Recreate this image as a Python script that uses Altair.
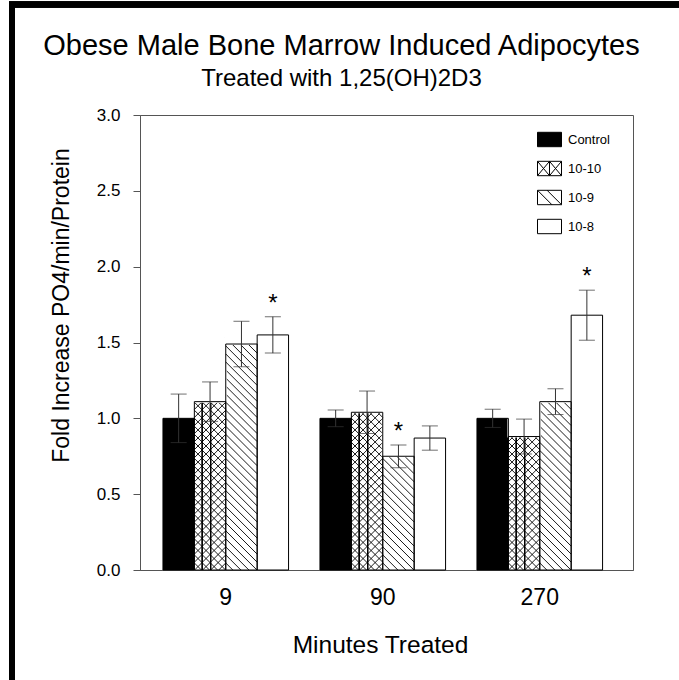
import altair as alt
import pandas as pd

groups = ["9", "90", "270"]
series = ["Control", "10-10", "10-9", "10-8"]

values_9 = [1.00, 1.11, 1.49, 1.55]
values_90 = [1.00, 1.04, 0.75, 0.87]
values_270 = [1.00, 0.88, 1.11, 1.68]

errors_9 = [0.16, 0.13, 0.15, 0.12]
errors_90 = [0.055, 0.14, 0.075, 0.08]
errors_270 = [0.06, 0.115, 0.085, 0.165]

significant = [("9", "10-8"), ("90", "10-9"), ("270", "10-8")]

rows = []
for g, vals, errs in zip(groups, [values_9, values_90, values_270],
                         [errors_9, errors_90, errors_270]):
    for s, v, e in zip(series, vals, errs):
        rows.append(dict(group=g, series=s, value=v, err=e,
                         lo=v - e, hi=v + e,
                         sig="*" if (g, s) in significant else ""))
df = pd.DataFrame(rows)

FONT = "Liberation Sans"
FRAME = "#555555"
W, H = 493, 455

x_enc = alt.X("group:N", sort=groups,
              scale=alt.Scale(paddingInner=0.2, paddingOuter=0.17, align=0.43),
              axis=alt.Axis(title="Minutes Treated", labelAngle=0, ticks=False,
                            labelFontSize=23, labelPadding=16, labelFont=FONT,
                            labelColor="black", titleFont=FONT, titleFontSize=24.5,
                            titleFontWeight="normal", titleColor="black",
                            titlePadding=24, titleX=240, domainColor=FRAME))
xo_enc = alt.XOffset("series:N", sort=series,
                     scale=alt.Scale(paddingInner=0, paddingOuter=0))
y_axis = alt.Axis(title="Fold Increase PO4/min/Protein",
                  values=[0, 0.5, 1.0, 1.5, 2.0, 2.5, 3.0], format=".1f",
                  grid=False, tickSize=7, tickColor=FRAME, domainColor=FRAME,
                  labelFontSize=17, labelFont=FONT, labelColor="black",
                  labelPadding=13, titleFont=FONT, titleFontSize=23,
                  titleFontWeight="normal", titleColor="black",
                  titleX=-67, titleY=190, titleAlign="center",
                  titleBaseline="bottom", titleAngle=270)
y_scale = alt.Scale(domain=[0, 3], nice=False, zero=True)


def Y(field):
    return alt.Y(field, type="quantitative", scale=y_scale, axis=y_axis)


base = alt.Chart(df)

HATCH_BACK = "M-1,-1L1,1"
HATCH_FWD = "M-1,1L1,-1"
HATCH_VERT = "M-0.5,-1L-0.5,1M0.04,-1L0.04,1"
BAR_PX = (W / 3.14) * 0.8 / 4
HSIZE = BAR_PX ** 2

bars = base.mark_bar(strokeWidth=0).encode(
    x=x_enc, xOffset=xo_enc, y=Y("value"),
    fill=alt.condition(alt.datum.series == "Control", alt.value("black"), alt.value("white")))


def hatch(filter_series, shape):
    return base.transform_filter(
        alt.FieldOneOfPredicate(field="series", oneOf=filter_series)
    ).transform_calculate(
        hy="sequence(-0.11, datum.value + 0.105, 0.053)"
    ).transform_flatten(["hy"]).mark_point(
        shape=shape, size=HSIZE, filled=False, stroke="black",
        strokeWidth=0.9, opacity=1, clip=True
    ).encode(x=x_enc, xOffset=xo_enc, y=Y("hy"))


h_back = hatch(["10-10", "10-9"], HATCH_BACK)
h_fwd = hatch(["10-10"], HATCH_FWD)
h_vert = hatch(["10-10"], HATCH_VERT)

cover = base.transform_filter(
    alt.FieldOneOfPredicate(field="series", oneOf=["10-10", "10-9"])
).transform_calculate(top="datum.value + 0.24").mark_bar(
    fill="white", stroke="white", strokeWidth=2
).encode(x=x_enc, xOffset=xo_enc, y=Y("value"), y2="top:Q")

outline = base.mark_bar(fillOpacity=0, stroke="black", strokeWidth=1).encode(
    x=x_enc, xOffset=xo_enc, y=Y("value"))

err_line = base.mark_rule(color="#333333", strokeWidth=1).encode(
    x=x_enc, xOffset=xo_enc, y=Y("lo"), y2="hi:Q")
cap_hi = base.mark_tick(color="#333333", size=16, thickness=1).encode(
    x=x_enc, xOffset=xo_enc, y=Y("hi"))
cap_lo = base.mark_tick(color="#333333", size=16, thickness=1).encode(
    x=x_enc, xOffset=xo_enc, y=Y("lo"))

stars = base.transform_filter(alt.datum.sig != "").mark_text(
    fontSize=24, font=FONT, baseline="alphabetic", dy=-6, color="black"
).encode(x=x_enc, xOffset=xo_enc, y=Y("hi"), text="sig:N")

LEG_RECT = "M-1,-0.6L1,-0.6L1,0.6L-1,0.6Z"
LEG_CROSS = (LEG_RECT + "M-1,-0.6L0,0.6M0,-0.6L-1,0.6M0,-0.6L1,0.6M1,-0.6L0,0.6"
             "M0,-0.6L0,0.6")
LEG_DIAG = LEG_RECT + "M-1,-0.6L0.2,0.6M-0.2,-0.6L1,0.6"

legend = alt.Legend(
    title=None, orient="none", legendX=397, legendY=12,
    symbolSize=576, symbolStrokeColor="black",
    symbolStrokeWidth=1, symbolOpacity=1, labelFont=FONT,
    labelFontSize=13, labelColor="black", labelOffset=6,
    rowPadding=7, padding=0)

legend_layer = base.mark_point(filled=True, opacity=0, size=576,
                               strokeWidth=1).encode(
    x=x_enc, xOffset=xo_enc, y=Y("value"),
    shape=alt.Shape("series:N", sort=series,
                    scale=alt.Scale(domain=series,
                                    range=[LEG_RECT, LEG_CROSS, LEG_DIAG, LEG_RECT]),
                    legend=legend),
    fill=alt.Fill("series:N", sort=series,
                  scale=alt.Scale(domain=series,
                                  range=["black", "white", "white", "white"]),
                  legend=legend),
    stroke=alt.Stroke("series:N", sort=series,
                      scale=alt.Scale(domain=series,
                                      range=["black", "black", "black", "black"]),
                      legend=legend))

left_bar = base.mark_rule(color="black", strokeWidth=6).encode(
    x=alt.value(-128), y=alt.value(-113), y2=alt.value(565))
top_bar = base.mark_rule(color="black", strokeWidth=5.5).encode(
    x=alt.value(-131), x2=alt.value(539), y=alt.value(-110.5))

chart = alt.layer(
    bars, h_back, h_fwd, h_vert, cover, outline, err_line, cap_hi, cap_lo,
    stars, legend_layer, left_bar, top_bar
).properties(
    width=W, height=H,
    title=alt.TitleParams(
        text="Obese Male Bone Marrow Induced Adipocytes",
        subtitle="Treated with 1,25(OH)2D3",
        font=FONT, fontSize=29, fontWeight="normal", color="black",
        subtitleFont=FONT, subtitleFontSize=24, subtitleColor="black",
        subtitlePadding=6, anchor="middle", dx=-45, dy=92, offset=0),
    autosize=alt.AutoSizeParams(type="none"),
    padding={"left": 140, "top": 115, "right": 46, "bottom": 110},
    background="white",
).configure_view(stroke=FRAME, strokeWidth=1)

chart.save("out.html", embed_options={"renderer": "svg", "actions": False})
